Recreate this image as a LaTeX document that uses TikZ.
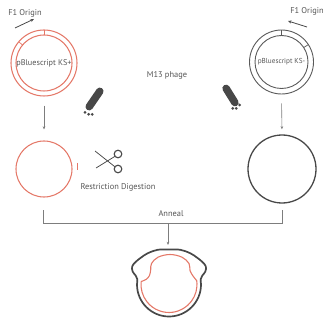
\documentclass[tikz,border=0pt]{standalone}
\usepackage{fontspec}
\setmainfont{PT Sans}
\usetikzlibrary{arrows.meta,calc}
\definecolor{plred}{RGB}{228,120,104}
\definecolor{ink}{RGB}{72,72,72}
\definecolor{lbl}{RGB}{85,85,85}
\definecolor{guide}{RGB}{125,125,125}
\definecolor{ksgray}{RGB}{90,90,90}
\begin{document}
\begin{tikzpicture}[x=1pt,y=-1pt,
  lbltext/.style={text=lbl,font=\fontsize{8.4}{9}\selectfont,inner sep=0pt},
  ringtext/.style={text=lbl,font=\fontsize{#1}{9}\selectfont,inner sep=0pt},
  ring/.style={circle,inner sep=0pt,minimum size=#1},
  flow/.style={draw=guide,line width=0.6pt,-{Stealth[length=3.2pt,width=2.6pt]}},
  guideline/.style={draw=guide,line width=0.6pt},
  oriarrow/.style={draw=ink,line width=0.8pt,-{Stealth[length=3.6pt,width=3.2pt,open]}},
  phagebody/.style={draw=ink,line width=7.5pt,line cap=round},
  phagefoot/.style={fill=ink},
  redstrand/.style={draw=plred,line width=1.05pt},
  graystrand/.style={draw=ksgray,line width=0.9pt},
]
\useasboundingbox (0,0) rectangle (323,320);

% ---- pBluescript KS+ (left) ----
\node[ring=66pt,redstrand] (LP) at (44,63) {};
\draw[redstrand] (LP.center) circle[radius=28pt];
\node[ringtext=8.2] (LPt) at (LP.center) {pBluescript KS+};
\draw[plred,line width=0.7pt] ($(LP.center)+(90:28pt)$) -- ($(LP.center)+(90:33pt)$);
\draw[plred,line width=0.7pt] ($(LP.center)+(140:28pt)$) -- ($(LP.center)+(140:33pt)$);
\node[lbltext] (LF) at (25,13) {F1 Origin};
\coordinate (la0) at (15,28);
\coordinate (la1) at (34,19);
\draw[oriarrow] (la0) -- (la1);

% ---- pBluescript KS- (right) ----
\node[ring=64pt,graystrand] (RP) at (281.5,62) {};
\draw[graystrand] (RP.center) circle[radius=26.5pt];
\node[ringtext=7.2] (RPt) at (RP.center) {pBluescript KS-};
\draw[ksgray,line width=0.7pt] ($(RP.center)+(90:26.5pt)$) -- ($(RP.center)+(90:32pt)$);
\draw[ksgray,line width=0.7pt] ($(RP.center)+(33:26.5pt)$) -- ($(RP.center)+(33:32pt)$);
\node[lbltext] (RF) at (307,11) {F1 Origin};
\coordinate (ra0) at (307,27);
\coordinate (ra1) at (288,21);
\draw[oriarrow] (ra0) -- (ra1);

% ---- M13 phage ----
\node[lbltext] (M13) at (167,75) {M13 phage};
\draw[phagebody] (89.2,106.7) -- (99.8,91.3);
\fill[phagefoot] (85,112.3) circle[radius=1.5pt] (88.6,114.3) circle[radius=1.5pt] (92.2,114.3) circle[radius=1.5pt];
\draw[phagebody] (226.1,88.4) -- (234.9,102.6);
\fill[phagefoot] (232.7,108.4) circle[radius=1.5pt] (236.3,108.4) circle[radius=1.5pt] (239.6,105) circle[radius=1.5pt];

% ---- cut and single-stranded circles ----
\node[ring=56pt,redstrand] (LC) at (44,169) {};
\draw[plred,line width=1pt] (77,163) -- (77,170);
\node[ring=68pt,draw=ink,line width=1.3pt] (RC) at (282,169) {};

\draw[flow,shorten <=9pt,shorten >=11pt] (LP.south) -- (LC.north);
\draw[flow,shorten <=9pt,shorten >=5pt] (RP.south) -- (RC.south |- RC.north);

% ---- scissors ----
\draw[ink,line width=1.1pt] (118,154) circle[radius=3.8pt] (118,169) circle[radius=3.8pt];
\draw[ink,line width=0.75pt] (95,151) -- (115.2,167);
\draw[ink,line width=0.75pt] (96,168) -- (115.2,156.2);
\node[lbltext] (RD) at (118,187) {Restriction Digestion};

% ---- anneal bracket ----
\coordinate (bl0) at (43,210);
\coordinate (bl1) at (43,223);
\coordinate (br0) at (282,210);
\coordinate (br1) at (282,223);
\coordinate (bm) at (168,223);
\coordinate (bt) at (168,245);
\draw[guideline] (bl0) -- (bl1) -- (br1) -- (br0);
\node[lbltext] (AN) at (171,214) {Anneal};
\draw[flow] (bm) -- (bt);

% ---- annealed product: gapped duplex ----
\coordinate (C) at (169,284.5);
\draw[ink,line width=1.7pt,line join=round]
  plot[smooth,tension=0.6] coordinates {
    ([shift={(C)}]0:32pt) ([shift={(C)}]10:32.3pt) ([shift={(C)}]15:34.5pt)
    ([shift={(C)}]19.5:38.5pt) ([shift={(C)}]26:41pt) ([shift={(C)}]34:40.3pt)
    ([shift={(C)}]44:38.8pt) ([shift={(C)}]56:37.8pt) ([shift={(C)}]72:36.5pt)
    ([shift={(C)}]90:35pt) ([shift={(C)}]108:36.5pt) ([shift={(C)}]124:37.8pt)
    ([shift={(C)}]136:38.8pt) ([shift={(C)}]146:40.3pt) ([shift={(C)}]154:41pt)
    ([shift={(C)}]160.5:38.5pt) ([shift={(C)}]165:34.5pt) ([shift={(C)}]170:32.3pt)
    ([shift={(C)}]180:32pt)}
  arc[start angle=180,end angle=360,radius=32pt];
\draw[redstrand,line width=1.1pt,line join=miter]
  plot[smooth,tension=0.6] coordinates {
    ([shift={(C)}]-28pt,3pt) ([shift={(C)}]-23pt,5pt) ([shift={(C)}]-19.5pt,9pt)
    ([shift={(C)}]-18.3pt,15pt) ([shift={(C)}]-17.5pt,21pt) ([shift={(C)}]-11pt,27.3pt)
    ([shift={(C)}]1pt,30pt) ([shift={(C)}]13pt,27.3pt) ([shift={(C)}]20pt,21pt)
    ([shift={(C)}]21pt,14pt) ([shift={(C)}]24pt,8.5pt) ([shift={(C)}]27.7pt,3.9pt)}
  arc[start angle=8,end angle=-186,radius=28pt];
\end{tikzpicture}
\end{document}
